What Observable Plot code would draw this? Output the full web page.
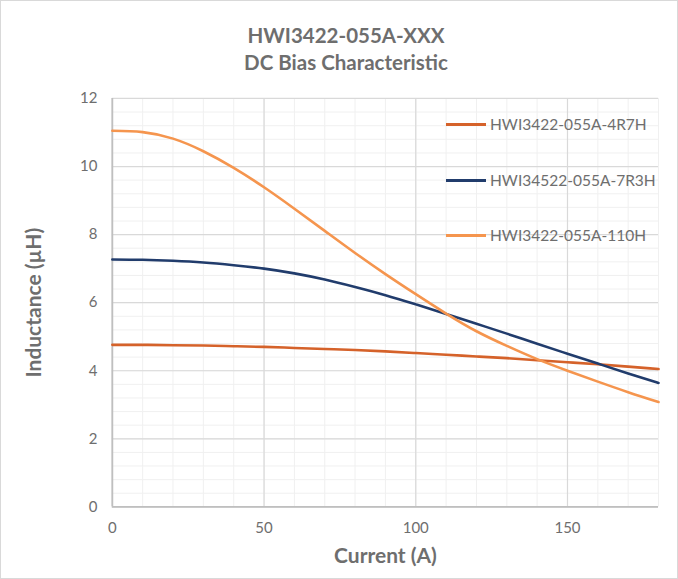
<!DOCTYPE html>
<html>
<head>
<meta charset="utf-8">
<script src="https://cdn.jsdelivr.net/npm/d3@7"></script>
<script src="https://cdn.jsdelivr.net/npm/@observablehq/plot@0.6"></script>
<style>
  html, body { margin: 0; padding: 0; background: #fff; }
  #chart { position: relative; width: 678px; height: 579px; box-sizing: border-box; border: 1px solid #d9d9d9; font-family: Lato, "Open Sans", sans-serif; overflow: hidden; }
  #title { position: absolute; left: 0; top: 21px; width: 690px; text-align: center; color: #6e6e6e; font-weight: bold; font-size: 20.5px; line-height: 27px; }
  #plot { position: absolute; left: -1px; top: 79px; }
  #legend { position: absolute; left: 445px; top: 113px; color: #6e6e6e; font-size: 15.5px; }
  .item { position: absolute; left: 0; height: 20px; white-space: nowrap; }
  .swatch { position: absolute; left: 0; top: 9px; width: 40px; height: 3px; }
  .lab { position: absolute; left: 44px; top: 0; line-height: 20px; }
</style>
</head>
<body>
<div id="chart">
  <div id="title">HWI3422-055A-XXX<br>DC Bias Characteristic</div>
  <div id="plot"></div>
  <div id="legend"></div>
</div>
<script>
const currents = [0, 10, 20, 30, 40, 50, 60, 70, 80, 90, 100, 110, 120, 130, 140, 150, 160, 170, 180];
const L_4R7H = [4.76, 4.76, 4.75, 4.74, 4.72, 4.70, 4.67, 4.64, 4.61, 4.57, 4.52, 4.47, 4.42, 4.37, 4.31, 4.25, 4.19, 4.12, 4.05];
const L_7R3H = [7.27, 7.26, 7.23, 7.18, 7.10, 7.00, 6.86, 6.68, 6.46, 6.22, 5.95, 5.67, 5.38, 5.09, 4.79, 4.50, 4.21, 3.92, 3.64];
const L_110H = [11.05, 11.01, 10.82, 10.45, 9.96, 9.39, 8.76, 8.11, 7.46, 6.84, 6.25, 5.68, 5.16, 4.73, 4.34, 4.00, 3.68, 3.37, 3.08];
const seriesNames = ["HWI3422-055A-4R7H", "HWI34522-055A-7R3H", "HWI3422-055A-110H"];
const seriesColors = ["#d5622a", "#213c6c", "#f5954e"];
const xTicks = [0, 50, 100, 150];
const yTicks = [0, 2, 4, 6, 8, 10, 12];
const xMinor = d3.range(0, 181, 10);
const yMinor = d3.range(0, 31).map(i => +(i * 0.4).toFixed(1));
const xLabel = "Current (A)";
const yLabel = "Inductance (µH)";

const seriesValues = [L_4R7H, L_7R3H, L_110H];
const data = seriesValues.flatMap((vals, s) => vals.map((v, i) => ({series: seriesNames[s], current: currents[i], L: v})));

const plot = Plot.plot({
  width: 678,
  height: 500,
  marginLeft: 112,
  marginRight: 19,
  marginTop: 18,
  marginBottom: 73,
  style: {fontFamily: "Lato, 'Open Sans', sans-serif", background: "transparent", overflow: "visible"},
  x: {domain: [0, 180]},
  y: {domain: [0, 12]},
  color: {domain: seriesNames, range: seriesColors},
  marks: [
    Plot.gridX(xMinor, {stroke: "#f0f0f0", strokeOpacity: 1, strokeWidth: 1}),
    Plot.gridY(yMinor, {stroke: "#f0f0f0", strokeOpacity: 1, strokeWidth: 1}),
    Plot.gridX(xTicks, {stroke: "#d9d9d9", strokeOpacity: 1, strokeWidth: 1.2}),
    Plot.gridY(yTicks, {stroke: "#d9d9d9", strokeOpacity: 1, strokeWidth: 1.2}),
    Plot.ruleX([0], {stroke: "#bfbfbf", strokeWidth: 1.8}),
    Plot.ruleY([0], {stroke: "#bfbfbf", strokeWidth: 1.8}),
    Plot.axisY(yTicks, {tickSize: 0, tickPadding: 15, fontSize: 15, fill: "#6e6e6e", label: null}),
    Plot.axisX(xTicks, {tickSize: 0, tickPadding: 16, fontSize: 15, fill: "#6e6e6e", label: null}),
    Plot.line(data, {x: "current", y: "L", z: "series", stroke: "series", strokeWidth: 2.6, curve: "natural"}),
    Plot.text([xLabel], {frameAnchor: "bottom", dy: 56, fontSize: 21, fontWeight: "bold", fill: "#6e6e6e"}),
    Plot.text([yLabel], {frameAnchor: "left", textAnchor: "middle", rotate: -90, dx: -78, fontSize: 21, fontWeight: "bold", fill: "#6e6e6e"})
  ]
});
document.getElementById("plot").appendChild(plot);

const legend = document.getElementById("legend");
const legendTops = [0, 56, 111];
seriesNames.forEach((name, i) => {
  const item = document.createElement("div");
  item.className = "item";
  item.style.top = legendTops[i] + "px";
  item.innerHTML = `<div class="swatch" style="background:${seriesColors[i]}"></div><div class="lab">${name}</div>`;
  legend.appendChild(item);
});
</script>
</body>
</html>
